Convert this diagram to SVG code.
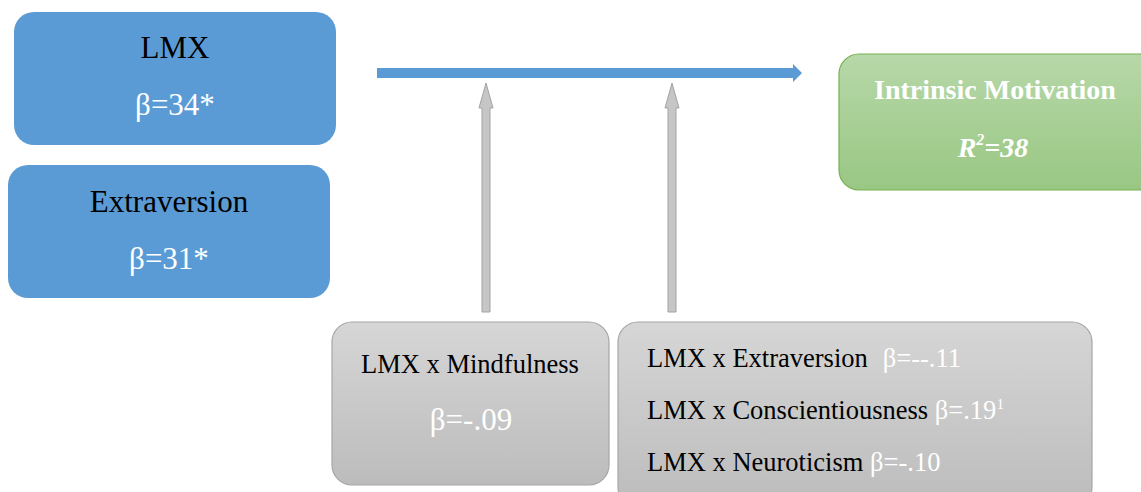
<svg xmlns="http://www.w3.org/2000/svg" width="1141" height="492" viewBox="0 0 1141 492">
  <defs>
    <linearGradient id="gGreen" x1="0" y1="0" x2="0" y2="1">
      <stop offset="0" stop-color="#b7d8a9"/>
      <stop offset="1" stop-color="#99c783"/>
    </linearGradient>
    <linearGradient id="gGray" x1="0" y1="0" x2="0" y2="1">
      <stop offset="0" stop-color="#d6d6d6"/>
      <stop offset="1" stop-color="#bcbcbc"/>
    </linearGradient>
    <style>
      .blue { fill: #5b9bd5; }
      .green { fill: url(#gGreen); stroke: #76b150; stroke-width: 1.2; }
      .gray { fill: url(#gGray); stroke: #a6a6a6; stroke-width: 1.2; }
      .t { font-family: "Liberation Serif", "Times New Roman", serif; }
      .dark { fill: #000; }
      .white { fill: #fff; }
      .garrow { fill: #c6c6c6; stroke: #a3a3a3; stroke-width: 1; }
    </style>
  </defs>

  <!-- predictors -->
  <g id="lmx">
    <rect class="blue" x="14" y="12" width="322" height="133" rx="20"/>
    <text class="t dark" x="175" y="58" font-size="31" text-anchor="middle">LMX</text>
    <text class="t white" x="175" y="115" font-size="31" text-anchor="middle">β=34*</text>
  </g>
  <g id="extraversion">
    <rect class="blue" x="8" y="165" width="322" height="133" rx="20"/>
    <text class="t dark" x="169" y="212" font-size="31" text-anchor="middle">Extraversion</text>
    <text class="t white" x="169" y="269" font-size="31" text-anchor="middle">β=31*</text>
  </g>

  <!-- outcome -->
  <g id="intrinsic-motivation">
    <rect class="green" x="839" y="54" width="320" height="136" rx="20"/>
    <text class="t white" x="995" y="99" font-size="28" font-weight="bold" text-anchor="middle">Intrinsic Motivation</text>
    <text class="t white" x="993" y="157" font-size="28" font-weight="bold" font-style="italic" text-anchor="middle">R<tspan font-size="16" dy="-12">2</tspan><tspan dy="12">=38</tspan></text>
  </g>

  <!-- moderators -->
  <g id="mindfulness">
    <rect class="gray" x="332" y="322" width="277" height="163" rx="20"/>
    <text class="t dark" x="470" y="373" font-size="26.5" text-anchor="middle">LMX x Mindfulness</text>
    <text class="t white" x="471" y="430" font-size="31" text-anchor="middle">β=-.09</text>
  </g>
  <g id="personality">
    <rect class="gray" x="618" y="322" width="474" height="185" rx="20"/>
    <text class="t" x="647" y="367" font-size="26.5"><tspan class="dark">LMX x Extraversion</tspan><tspan class="white" dx="15">β=--.11</tspan></text>
    <text class="t" x="647" y="419" font-size="26.5"><tspan class="dark">LMX x Conscientiousness </tspan><tspan class="white">β=.19</tspan><tspan class="white" font-size="15" dy="-10">1</tspan></text>
    <text class="t" x="647" y="471" font-size="26.5"><tspan class="dark">LMX x Neuroticism </tspan><tspan class="white">β=-.10</tspan></text>
  </g>

  <!-- connectors -->
  <g id="connectors">
    <path class="blue" d="M377 68 H793 V64 L802 73 L793 82 V78 H377 Z"/>
    <path class="garrow" d="M482 312 V108 H479 L486 83 L493 108 H490 V312 Z"/>
    <path class="garrow" d="M668 312 V108 H665 L672 83 L679 108 H676 V312 Z"/>
  </g>
</svg>
